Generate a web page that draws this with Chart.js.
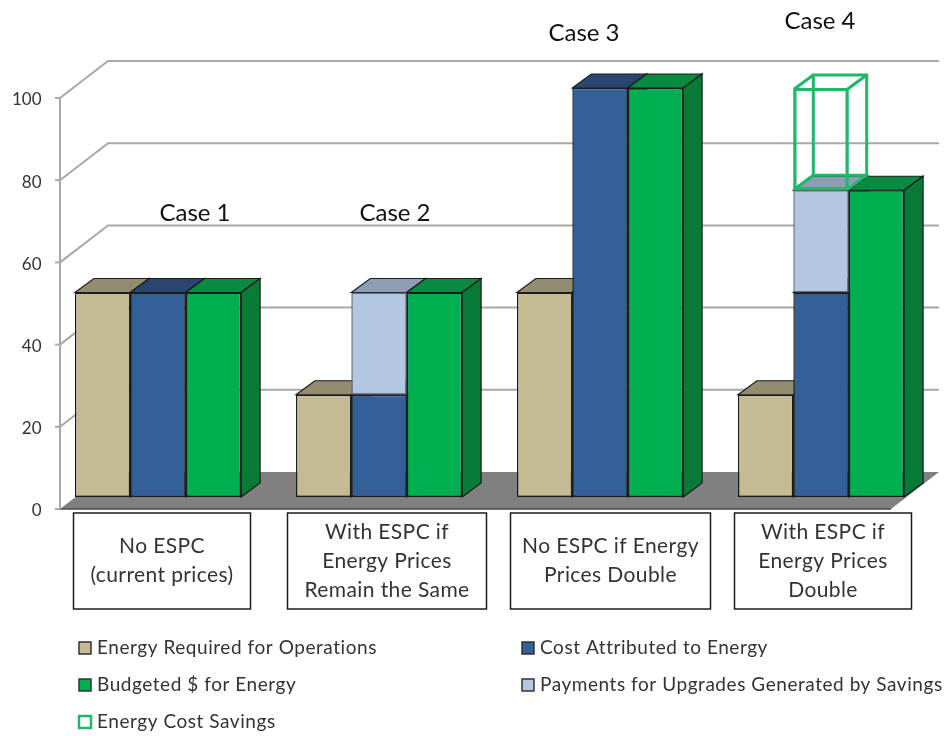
<!DOCTYPE html>
<html>
<head>
<meta charset="utf-8">
<title>Energy costs with and without ESPC</title>
<script src="https://cdn.jsdelivr.net/npm/chart.js@4"></script>
<style>
  html, body { margin: 0; background: #fff; }
  #wrap { width: 946px; height: 736px; }
</style>
</head>
<body>
<div id="wrap"><canvas id="espcChart" width="946" height="736"></canvas></div>
<script>
// Chart data
const categories = ['Case 1', 'Case 2', 'Case 3', 'Case 4'];
const energyRequired = [50, 25, 50, 25];
const costAttributed = [50, 25, 100, 50];
const payments = [null, 25, null, 25];
const budgeted = [50, 50, 100, 75];
const savings = [null, null, null, 25];
const axisTicks = [0, 20, 40, 60, 80, 100];
const boxLabels = [
  ['No ESPC', '(current prices)'],
  ['With ESPC if', 'Energy Prices', 'Remain the Same'],
  ['No ESPC if Energy', 'Prices Double'],
  ['With ESPC if', 'Energy Prices', 'Double']
];
const legendNames = [
  'Energy Required for Operations',
  'Cost Attributed to Energy',
  'Budgeted $ for Energy',
  'Payments for Upgrades Generated by Savings',
  'Energy Cost Savings'
];

// Placement of the hand-positioned text around the plot
const FONT = 'Lato, "Noto Sans", sans-serif';
const TITLE_POS = [[195, 213], [395, 213], [584, 33], [820, 21]];
const BOX_POS = [[73.5, 250.5], [287.5, 486.5], [510.5, 710.5], [734.5, 911.5]];
const BOX_TOP = 513;
const BOX_BOTTOM = 609;
const LEGEND_POS = [[79, 648], [522, 648], [79, 685], [522, 685], [79, 722]];

// Fake 3D: depth of the walls and depth of the bars
const AXIS_X = 60;
const FLOOR_RIGHT = 891;
const WALL_DX = 48;
const WALL_DY = 37;
const BAR_DX = 19;
const BAR_DY = 14;
// tick labels sit slightly below their grid lines
const GRID_LIFT = 2;

const TAN = '#C4BA94';
const BLUE = '#34609A';
const PALE = '#B4C7E0';
const GREEN = '#00B050';
const WIRE = '#1DB868';
const EDGE = '#1c1c1c';

const faceColors = [
  { top: '#948C70', side: '#8a8268' },
  { top: '#2A4570', side: '#24406a' },
  { top: '#8D9DB4', side: '#8496ae' },
  { top: '#088A40', side: '#067A36' }
];

function poly(ctx, pts, fill, stroke, width) {
  ctx.beginPath();
  pts.forEach((p, i) => (i ? ctx.lineTo(p[0], p[1]) : ctx.moveTo(p[0], p[1])));
  ctx.closePath();
  if (fill) {
    ctx.fillStyle = fill;
    ctx.fill();
  }
  if (stroke) {
    ctx.strokeStyle = stroke;
    ctx.lineWidth = width;
    ctx.stroke();
  }
}

function line(ctx, pts, color, width) {
  ctx.beginPath();
  pts.forEach((p, i) => (i ? ctx.lineTo(p[0], p[1]) : ctx.moveTo(p[0], p[1])));
  ctx.strokeStyle = color;
  ctx.lineWidth = width;
  ctx.stroke();
}

function drawWalls(chart) {
  const ctx = chart.ctx;
  const scale = chart.scales.yAxis;
  const gridY = v => scale.getPixelForValue(v) - GRID_LIFT;
  const zero = gridY(0);
  const backRight = FLOOR_RIGHT + WALL_DX;

  axisTicks.slice(1).forEach(v => {
    const y = gridY(v);
    line(ctx, [[AXIS_X, y], [AXIS_X + WALL_DX, y - WALL_DY], [backRight, y - WALL_DY]], '#A8A8A8', 2);
  });

  poly(ctx, [[AXIS_X, zero], [AXIS_X + WALL_DX, zero - WALL_DY], [backRight, zero - WALL_DY], [FLOOR_RIGHT, zero]], '#808080');
  line(ctx, [[AXIS_X, zero], [FLOOR_RIGHT, zero]], '#4a4a4a', 1.5);
  line(ctx, [[AXIS_X, gridY(100)], [AXIS_X, zero]], '#A8A8A8', 2);
  axisTicks.forEach(v => {
    const y = gridY(v);
    line(ctx, [[AXIS_X - 5, y], [AXIS_X, y]], '#A8A8A8', 2);
  });
}

// Top and side faces go under all the front faces, so neighbours hide them
function drawBarDepth(chart) {
  const ctx = chart.ctx;
  faceColors.forEach((colors, i) => {
    chart.getDatasetMeta(i).data.forEach((bar, j) => {
      if (chart.data.datasets[i].data[j] === null) return;
      const left = bar.x - bar.width / 2;
      const right = bar.x + bar.width / 2;
      poly(ctx, [[left, bar.y], [left + BAR_DX, bar.y - BAR_DY], [right + BAR_DX, bar.y - BAR_DY], [right, bar.y]], colors.top, EDGE, 1.2);
      poly(ctx, [[right, bar.y], [right + BAR_DX, bar.y - BAR_DY], [right + BAR_DX, bar.base - BAR_DY], [right, bar.base]], colors.side, EDGE, 1.2);
    });
  });
}

// The savings box is an outline only and sits over the solid bars
function drawWireframe(chart) {
  const ctx = chart.ctx;
  const index = chart.data.datasets.length - 1;
  chart.getDatasetMeta(index).data.forEach((bar, j) => {
    if (savings[j] === null) return;
    const left = bar.x - bar.width / 2 + 1;
    const right = bar.x + bar.width / 2 - 1;
    const top = bar.y + 1;
    const bottom = bar.base - 1;
    poly(ctx, [[left + BAR_DX, top - BAR_DY], [right + BAR_DX, top - BAR_DY], [right + BAR_DX, bottom - BAR_DY], [left + BAR_DX, bottom - BAR_DY]], null, WIRE, 3);
    line(ctx, [[left, top], [left + BAR_DX, top - BAR_DY]], WIRE, 3);
    line(ctx, [[right, top], [right + BAR_DX, top - BAR_DY]], WIRE, 3);
    line(ctx, [[left, bottom], [left + BAR_DX, bottom - BAR_DY]], WIRE, 3);
    line(ctx, [[right, bottom], [right + BAR_DX, bottom - BAR_DY]], WIRE, 3);
    bar.draw(ctx);
  });
}

function drawCaseTitles(ctx) {
  ctx.font = '24px ' + FONT;
  ctx.letterSpacing = '0px';
  ctx.fillStyle = '#111';
  ctx.textAlign = 'center';
  ctx.textBaseline = 'middle';
  categories.forEach((name, i) => ctx.fillText(name, TITLE_POS[i][0], TITLE_POS[i][1]));
}

function drawBoxes(ctx) {
  const rowHeight = 29;
  ctx.font = '21px ' + FONT;
  ctx.letterSpacing = '0.4px';
  ctx.textAlign = 'center';
  ctx.textBaseline = 'middle';
  boxLabels.forEach((rows, i) => {
    const [left, right] = BOX_POS[i];
    ctx.strokeStyle = '#1c1c1c';
    ctx.lineWidth = 1.5;
    ctx.strokeRect(left, BOX_TOP, right - left, BOX_BOTTOM - BOX_TOP);
    const first = (BOX_TOP + BOX_BOTTOM) / 2 - (rows.length - 1) * rowHeight / 2;
    ctx.fillStyle = '#333';
    rows.forEach((row, r) => ctx.fillText(row, (left + right) / 2, first + r * rowHeight));
  });
}

function drawLegend(ctx) {
  const swatches = [TAN, BLUE, GREEN, PALE, '#fff'];
  ctx.font = '19px ' + FONT;
  ctx.letterSpacing = '0.55px';
  ctx.textAlign = 'left';
  ctx.textBaseline = 'middle';
  legendNames.forEach((name, i) => {
    const [x, y] = LEGEND_POS[i];
    const isWire = i === legendNames.length - 1;
    ctx.fillStyle = swatches[i];
    ctx.fillRect(x, y - 6, 12, 12);
    ctx.strokeStyle = isWire ? WIRE : '#333';
    ctx.lineWidth = isWire ? 2.5 : 1.5;
    ctx.strokeRect(x, y - 6, 12, 12);
    ctx.fillStyle = '#333';
    ctx.fillText(name, x + 18, y);
  });
}

const depthPlugin = {
  id: 'depth',
  beforeDatasetsDraw(chart) {
    drawWalls(chart);
    drawBarDepth(chart);
  },
  afterDatasetsDraw(chart) {
    drawWireframe(chart);
  },
  afterDraw(chart) {
    const ctx = chart.ctx;
    ctx.save();
    drawCaseTitles(ctx);
    drawBoxes(ctx);
    drawLegend(ctx);
    ctx.restore();
  }
};

function barSet(label, data, stack, color, edge) {
  return {
    label,
    data,
    stack,
    backgroundColor: color,
    borderColor: edge,
    borderWidth: 1.5,
    borderSkipped: false,
    yAxisID: 'y',
    categoryPercentage: 0.752,
    barPercentage: 1
  };
}

new Chart(document.getElementById('espcChart').getContext('2d'), {
  type: 'bar',
  data: {
    labels: categories,
    datasets: [
      barSet(legendNames[0], energyRequired, 'need', TAN, EDGE),
      barSet(legendNames[1], costAttributed, 'spend', BLUE, EDGE),
      barSet(legendNames[3], payments, 'spend', PALE, '#5f6b7c'),
      barSet(legendNames[2], budgeted, 'budget', GREEN, EDGE),
      { ...barSet(legendNames[4], savings, 'spend', 'rgba(0,0,0,0)', WIRE), borderWidth: 3 }
    ]
  },
  options: {
    responsive: false,
    animation: false,
    events: [],
    layout: { padding: { top: 88, bottom: 225, right: 14.5 } },
    plugins: { legend: { display: false }, title: { display: false }, tooltip: { enabled: false } },
    scales: {
      x: { display: false },
      // bars stand a little in front of the wall, so they get their own scale
      y: { display: false, stacked: true, min: -3.42, max: 100 },
      yAxis: {
        position: 'left',
        min: 0,
        max: 102.92,
        afterFit: scale => { scale.width = 47.5; },
        border: { display: false },
        grid: { display: false, drawTicks: false },
        ticks: {
          stepSize: 20,
          includeBounds: false,
          padding: 6,
          color: '#333',
          font: { family: FONT, size: 17 }
        }
      }
    }
  },
  plugins: [depthPlugin]
});
</script>
</body>
</html>
